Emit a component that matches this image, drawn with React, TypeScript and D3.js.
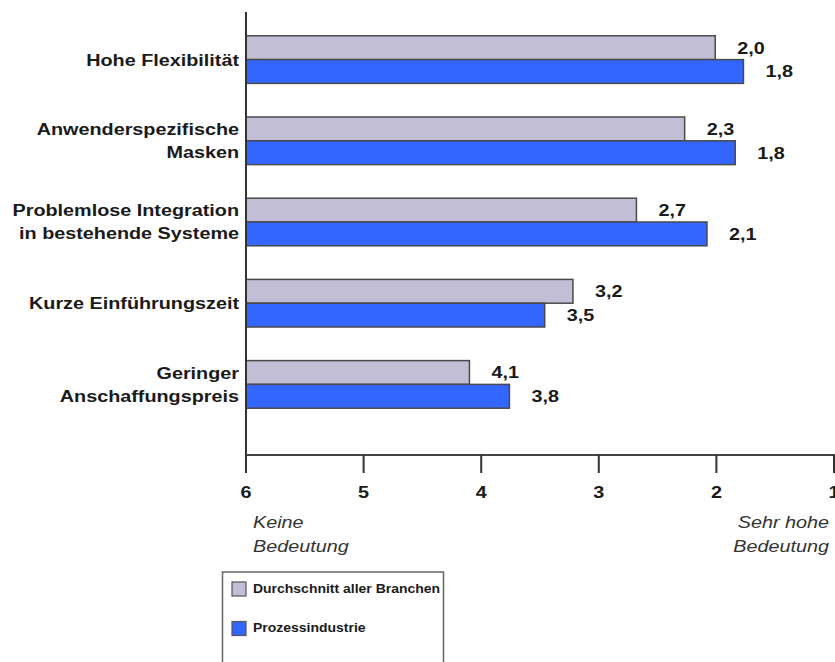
import * as d3 from 'd3'

// Kategorien (mehrzeilige Beschriftung)
const categories = [
  ['Hohe Flexibilität'],
  ['Anwenderspezifische', 'Masken'],
  ['Problemlose Integration', 'in bestehende Systeme'],
  ['Kurze Einführungszeit'],
  ['Geringer', 'Anschaffungspreis'],
]
const seriesNames = ['Durchschnitt aller Branchen', 'Prozessindustrie']
const durchschnitt = [2.01, 2.27, 2.68, 3.22, 4.1]
const prozess = [1.77, 1.84, 2.08, 3.46, 3.76]
const ticks = [6, 5, 4, 3, 2, 1]

const W = 835
const H = 662
const SX = 1.165 // original picture is stretched horizontally
const FONT = '"Liberation Sans", Arial, Helvetica, sans-serif'
const colors = ['#c2bed6', '#3366ff']

const fmt = (v: number) => d3.format('.1f')(v).replace('.', ',')

function T({ x, y, anchor = 'start', size = 17, weight = 'bold', italic = false, fill = '#1a1a1a', children }: any) {
  return (
    <g transform={`translate(${x},${y}) scale(${SX},1)`}>
      <text
        textAnchor={anchor}
        dy="0.35em"
        fontFamily={FONT}
        fontSize={size}
        fontWeight={weight}
        fontStyle={italic ? 'italic' : 'normal'}
        fill={fill}
      >
        {children}
      </text>
    </g>
  )
}

export default function App() {
  const x = d3.scaleLinear().domain([6, 1]).range([246, 834])
  const y = d3.scaleBand<number>().domain(d3.range(categories.length)).range([19, 425]).padding(0)
  const barH = 23.8
  const axisY = 455
  const series = [durchschnitt, prozess]

  return (
    <svg width={W} height={H} style={{ position: 'absolute', left: 0, top: 0, background: '#fff' }}>
      <rect width={W} height={H} fill="#fff" />

      {/* Balken */}
      {categories.map((lines, i) => {
        const cy = (y(i) as number) + y.bandwidth() / 2
        return (
          <g key={i}>
            {series.map((s, k) => {
              const top = cy - barH + k * barH
              return (
                <g key={k}>
                  <rect
                    x={x(6)}
                    y={top}
                    width={x(s[i]) - x(6)}
                    height={barH}
                    fill={colors[k]}
                    stroke="#4a4a4a"
                    strokeWidth={1.5}
                  />
                  <T x={x(s[i]) + 22} y={top + barH / 2}>{fmt(s[i])}</T>
                </g>
              )
            })}
            {lines.map((l, j) => (
              <T key={j} x={239} y={cy + (j - (lines.length - 1) / 2) * 23} anchor="end">{l}</T>
            ))}
          </g>
        )
      })}

      {/* Achsen */}
      <line x1={246} x2={246} y1={12} y2={axisY} stroke="#333" strokeWidth={2} />
      <line x1={246} x2={W} y1={axisY} y2={axisY} stroke="#444" strokeWidth={2.2} />
      {ticks.map((t) => (
        <g key={t}>
          <line x1={x(t)} x2={x(t)} y1={axisY} y2={axisY + 18} stroke="#333" strokeWidth={2} />
          <T x={x(t)} y={492} anchor="middle">{t}</T>
        </g>
      ))}
      <T x={253} y={522} weight="normal" italic fill="#333">Keine</T>
      <T x={253} y={546} weight="normal" italic fill="#333">Bedeutung</T>
      <T x={829} y={522} anchor="end" weight="normal" italic fill="#333">Sehr hohe</T>
      <T x={829} y={546} anchor="end" weight="normal" italic fill="#333">Bedeutung</T>

      {/* Legende */}
      <rect x={222.5} y={572} width={221} height={100} fill="#fff" stroke="#666" strokeWidth={1.5} />
      {seriesNames.map((n, k) => (
        <g key={n}>
          <rect x={232} y={582 + k * 39.5} width={14} height={14} fill={colors[k]} stroke="#555" strokeWidth={1.2} />
          <T x={253} y={589 + k * 38.5} size={12}>{n}</T>
        </g>
      ))}
    </svg>
  )
}
